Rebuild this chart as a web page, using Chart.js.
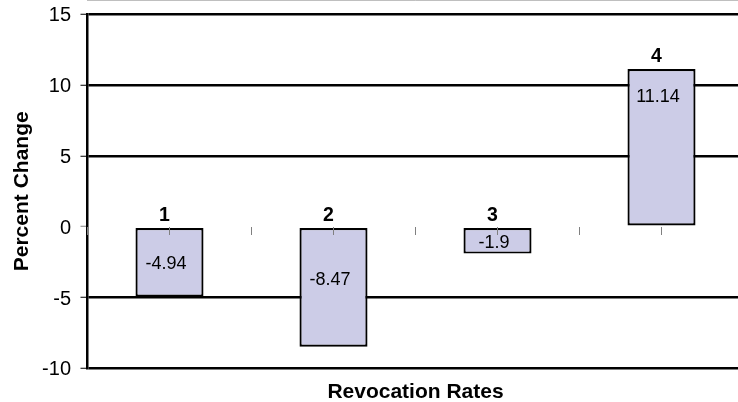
<!DOCTYPE html>
<html>
<head>
<meta charset="utf-8">
<style>
  html, body { margin: 0; padding: 0; background: #fff; overflow: hidden; width: 738px; height: 402px; }
  canvas { display: block; }
</style>
<script src="https://cdn.jsdelivr.net/npm/chart.js@4/dist/chart.umd.min.js"></script>
</head>
<body>
<canvas id="c" width="760" height="402"></canvas>
<script>
// ---- data ----
const categories = ['1', '2', '3', '4'];
const values = [-4.94, -8.47, -1.9, 11.14];
const yTicks = [-10, -5, 0, 5, 10, 15];
const xTitle = 'Revocation Rates';
const yTitle = 'Percent Change';

const FONT = '"Liberation Sans", Arial, sans-serif';

const labelPlugin = {
  id: 'barLabels',
  afterDatasetsDraw(chart) {
    const ctx = chart.ctx;
    const meta = chart.getDatasetMeta(0);
    ctx.save();
    ctx.fillStyle = '#000';
    meta.data.forEach((el, i) => {
      const v = values[i];
      const top = Math.min(el.y, el.base);
      // category label above bar / zero line
      ctx.font = 'bold 19.5px ' + FONT;
      ctx.textAlign = 'center';
      ctx.textBaseline = 'alphabetic';
      ctx.fillText(categories[i], el.x - 5, top - 7);
      // value label inside bar
      ctx.font = '18px ' + FONT;
      ctx.textBaseline = 'middle';
      let y;
      if (v >= 0) {
        y = el.y + 28;
      } else {
        y = Math.min((el.y + el.base) / 2 + 2, el.base + 52);
      }
      ctx.fillText(String(v), el.x - 3.5, y);
    });
    // x axis title
    const ca = chart.chartArea;
    ctx.font = 'bold 21px ' + FONT;
    ctx.textAlign = 'center';
    ctx.textBaseline = 'alphabetic';
    ctx.fillText(xTitle, (ca.left + ca.right) / 2, 398);
    ctx.restore();
  }
};

new Chart(document.getElementById('c'), {
  type: 'bar',
  data: {
    datasets: [{
      data: values.map((v, i) => ({ x: i + 1, y: v })),
      backgroundColor: 'rgb(204,204,231)',
      borderColor: '#000',
      borderWidth: 2.2,
      borderSkipped: false,
      // sample size is the half-category tick spacing, so 0.83 of it = ~41% of a category
      barPercentage: 0.83,
      categoryPercentage: 1
    }]
  },
  options: {
    responsive: false,
    animation: false,
    devicePixelRatio: 1,
    layout: { padding: { top: 14.3, right: 16.5, bottom: 33.7, left: 0 } },
    plugins: { legend: { display: false }, tooltip: { enabled: false } },
    scales: {
      x: {
        type: 'linear',
        position: { y: 0 },
        min: 0.5,
        max: 4.5,
        offset: false,
        afterBuildTicks(s) {
          const t = [];
          for (let k = 0; k <= categories.length * 2; k++) t.push({ value: 0.5 + k * 0.5 });
          s.ticks = t;
        },
        afterFit(s) { s.height = 0; s.paddingLeft = 0; s.paddingRight = 0; },
        ticks: { display: false },
        grid: {
          offset: false,
          drawOnChartArea: false,
          drawTicks: true,
          tickLength: 8,
          tickColor: '#808080',
          tickWidth: 1,
          z: 1
        },
        border: { display: true, color: '#808080', width: 1 }
      },
      y: {
        min: yTicks[0],
        max: yTicks[yTicks.length - 1],
        afterBuildTicks(s) { s.ticks = yTicks.map(v => ({ value: v })); },
        afterFit(s) { s.width = 87.5; s.paddingTop = 0; s.paddingBottom = 0; },
        ticks: {
          color: '#000',
          padding: 9.5,
          labelOffset: 1.5,
          font: { family: FONT, size: 20 }
        },
        grid: {
          color: (c) => (c.tick && c.tick.value === 0) ? 'rgba(0,0,0,0)' : '#000',
          lineWidth: 2.5,
          tickLength: 7,
          tickWidth: 1,
          tickColor: (c) => (c.tick && c.tick.value === 0) ? '#808080' : '#000'
        },
        border: { display: true, color: '#000', width: 2.5 },
        title: {
          display: true,
          text: yTitle,
          color: '#000',
          font: { family: FONT, size: 21, weight: 'bold' },
          padding: { top: 9.5, bottom: 0 }
        }
      }
    }
  },
  plugins: [labelPlugin]
});
</script>
</body>
</html>
